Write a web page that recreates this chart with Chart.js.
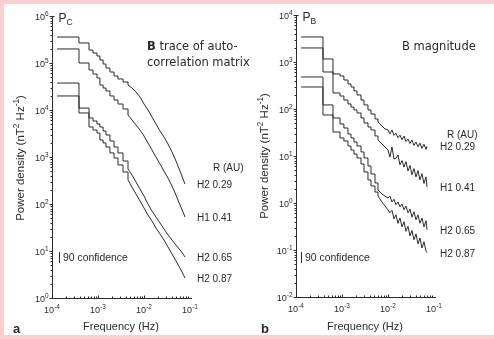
<!DOCTYPE html>
<html>
<head>
<meta charset="utf-8">
<script src="https://cdn.jsdelivr.net/npm/chart.js@4.4.0/dist/chart.umd.min.js"></script>
<style>
  html, body { margin: 0; padding: 0; }
  body { width: 494px; height: 339px; background: #fccfcf; position: relative; overflow: hidden; }
  #sheet { position: absolute; left: 4px; top: 4px; width: 490px; height: 331px; background: #fff; }
  canvas { position: absolute; top: 0; }
  #chartA { left: 0; }
  #chartB { left: 247px; }
</style>
</head>
<body>
<div id="sheet"></div>
<canvas id="chartA" width="260" height="339"></canvas>
<canvas id="chartB" width="247" height="339"></canvas>
<script>
// 频率 (Hz)，每个谱估计的起点
const freqA = [1.29e-4, 3.86e-4, 6.37e-4, 7.78e-4, 9.51e-4, 1.1e-3, 1.29e-3, 1.49e-3, 1.82e-3, 2.23e-3,
  2.72e-3, 3.5e-3, 4.49e-3, 5.48e-3, 6.7e-3, 8.18e-3, 1.0e-2, 1.22e-2, 1.49e-2, 1.82e-2,
  2.23e-2, 2.72e-2, 3.32e-2, 4.06e-2, 4.96e-2, 6.06e-2, 7.05e-2, 7.78e-2];

// a: P_C (nT^2 Hz^-1)
const pcH2_029 = [3.57e5, 2.67e5, 1.89e5, 1.63e5, 1.41e5, 1.16e5, 9.52e4, 7.83e4, 6.43e4, 5.29e4,
  4.57e4, 3.94e4, 3.40e4, 2.94e4, 2.42e4, 1.89e4, 1.34e4, 1.0e4, 7.10e3, 5.04e3,
  3.57e3, 2.66e3, 1.89e3, 1.28e3, 822, 504, 340, 267];
const pcH1_041 = [1.99e5, 1.0e5, 7.10e4, 5.83e4, 4.80e4, 3.40e4, 2.94e4, 2.54e4, 1.99e4, 1.63e4,
  1.34e4, 1.05e4, 7.83e3, 6.13e3, 4.80e3, 3.75e3, 2.80e3, 1.99e3, 1.41e3, 1.0e3,
  710, 504, 357, 242, 155, 95.2, 67.6, 52.9];
const pcH2_065 = [3.75e4, 1.10e4, 6.76e3, 5.83e3, 5.04e3, 4.35e3, 3.57e3, 2.94e3, 2.19e3, 1.63e3,
  1.22e3, 822, 555, 414, 294, 208, 148, 100, 71.0, 52.9,
  39.4, 29.4, 21.9, 17.1, 13.4, 10.5, 8.64, 7.45];
const pcH2_087 = [1.99e4, 8.64e3, 4.35e3, 3.75e3, 3.24e3, 2.30e3, 1.99e3, 1.63e3, 1.22e3, 952,
  676, 480, 324, 230, 163, 116, 82.2, 58.3, 43.5, 30.9,
  23.0, 17.1, 12.2, 8.64, 6.13, 4.35, 3.24, 2.67];

const freqB = [1.29e-4, 3.86e-4, 6.37e-4, 9.05e-4, 1.1e-3, 1.35e-3, 1.57e-3, 1.82e-3, 2.12e-3, 2.59e-3,
  3.01e-3, 3.67e-3, 4.27e-3, 5.22e-3, 6.06e-3, 7.41e-3, 8.61e-3, 1.0e-2, 1.1e-2, 1.22e-2,
  1.35e-2, 1.49e-2, 1.65e-2, 1.82e-2, 2.02e-2, 2.23e-2, 2.46e-2, 2.72e-2, 3.01e-2, 3.32e-2,
  3.67e-2, 4.06e-2, 4.49e-2, 4.96e-2, 5.48e-2, 6.06e-2, 6.70e-2, 7.05e-2];

// b: P_B
const pbH2_029 = [3.41e3, 1.16e3, 556, 504, 414, 341, 294, 242, 199, 155,
  122, 95.3, 78.3, 61.3, 52.9, 43.5, 37.6, 35.8, 29.5, 35.5,
  27.5, 30.5, 24.5, 27.8, 22.2, 26.5, 20.3, 23.0, 18.5, 21.8,
  16.8, 19.8, 15.8, 18.8, 14.5, 17.8, 13.8, 16.2];
const pbH1_041 = [1.99e3, 613, 219, 189, 155, 128, 110, 95.3, 82.3, 64.4,
  50.4, 41.4, 35.8, 26.7, 21.9, 18.0, 15.5, 13.4, 9.5, 15.5,
  8.6, 9.0, 10.5, 6.5, 8.0, 5.8, 7.6, 4.8, 6.3, 4.0,
  5.4, 3.6, 4.9, 3.1, 4.2, 2.6, 3.6, 2.2];
const pbH2_065 = [480, 122, 64.4, 48.0, 39.4, 29.4, 24.2, 19.9, 16.3, 12.2,
  9.08, 6.13, 4.14, 2.67, 1.89, 1.55, 1.41, 1.28, 1.40, 1.05,
  1.20, 0.92, 1.05, 0.83, 0.95, 0.72, 0.86, 0.62, 0.74, 0.50,
  0.65, 0.44, 0.56, 0.37, 0.48, 0.31, 0.42, 0.27];
const pbH2_087 = [294, 74.6, 32.4, 24.2, 20.9, 16.3, 13.4, 11.0, 9.08, 6.76,
  4.57, 3.09, 2.30, 1.71, 1.41, 1.05, 0.864, 0.710, 0.62, 0.70,
  0.46, 0.56, 0.37, 0.48, 0.31, 0.40, 0.25, 0.32, 0.20, 0.26,
  0.165, 0.22, 0.135, 0.18, 0.11, 0.15, 0.095, 0.088];

const seriesLabels = ['H2 0.29', 'H1 0.41', 'H2 0.65', 'H2 0.87'];
const xTickExp = [-4, -3, -2, -1];
const yTickExpA = [0, 1, 2, 3, 4, 5, 6];
const yTickExpB = [-2, -1, 0, 1, 2, 3, 4];

const INK = '#2a2a2a';
const SANS = '"Liberation Sans", Arial, sans-serif';
const TITLE = '"DejaVu Sans", Verdana, sans-serif';

// 富文本：上标 / 下标 / 粗体
function runFont(kind, size, family) {
  const s = (kind === 'sup' || kind === 'sub') ? size * 0.72 : size;
  return (kind === 'b' ? 'bold ' : '') + s + 'px ' + family;
}
function drawRich(ctx, runs, x, y, size, family, align) {
  let total = 0;
  runs.forEach(([t, k]) => { ctx.font = runFont(k, size, family); total += ctx.measureText(t).width; });
  let cx = align === 'right' ? x - total : align === 'center' ? x - total / 2 : x;
  ctx.textAlign = 'left';
  ctx.textBaseline = 'alphabetic';
  runs.forEach(([t, k]) => {
    ctx.font = runFont(k, size, family);
    const dy = k === 'sup' ? -size * 0.42 : k === 'sub' ? size * 0.28 : 0;
    ctx.fillText(t, cx, y + dy);
    cx += ctx.measureText(t).width;
  });
}

function panelPlugin(p) {
  return {
    id: 'panel' + p.letter,
    afterDraw(chart) {
      const { ctx, chartArea: a, scales: { x, y } } = chart;
      ctx.save();
      ctx.strokeStyle = INK;
      ctx.fillStyle = INK;
      ctx.lineWidth = 1;

      // 坐标轴
      const L = a.left + 0.5, B = a.bottom + 0.5;
      ctx.beginPath();
      ctx.moveTo(L, a.top);
      ctx.lineTo(L, B);
      ctx.lineTo(a.right + 2, B);
      ctx.stroke();

      // 刻度
      ctx.beginPath();
      for (let e = p.yExp[0]; e < p.yExp[p.yExp.length - 1]; e++) {
        for (let k = 1; k < 10; k++) {
          const py = Math.round(y.getPixelForValue(k * Math.pow(10, e))) + 0.5;
          ctx.moveTo(L - (k === 1 ? 3 : 2), py);
          ctx.lineTo(L, py);
        }
      }
      const topY = Math.round(y.getPixelForValue(Math.pow(10, p.yExp[p.yExp.length - 1]))) + 0.5;
      ctx.moveTo(L - 3, topY); ctx.lineTo(L + 2, topY);
      for (let e = -4; e < -1; e++) {
        for (let k = 1; k < 10; k++) {
          const px = Math.round(x.getPixelForValue(k * Math.pow(10, e))) + 0.5;
          ctx.moveTo(px, B);
          ctx.lineTo(px, B - (k === 1 ? 3 : 2));
        }
      }
      ctx.stroke();

      // 刻度标签
      p.yExp.forEach(e => {
        const py = y.getPixelForValue(Math.pow(10, e));
        drawRich(ctx, [['10', ''], [String(e), 'sup']], L - 4, py + 4, 9, SANS, 'right');
      });
      xTickExp.forEach(e => {
        const px = x.getPixelForValue(Math.pow(10, e));
        drawRich(ctx, [['10', ''], [String(e), 'sup']], px, B + 14, 9, SANS, 'center');
      });

      // 曲线标签（只标在每条曲线的高频段末端）
      chart.data.datasets.forEach(ds => {
        if (!ds.label) return;
        const last = ds.data[ds.data.length - 1];
        drawRich(ctx, [[ds.label, '']], x.getPixelForValue(last.x) + p.labelGap, y.getPixelForValue(last.y) + 4, 10, SANS, 'left');
      });
      drawRich(ctx, [['R (AU)', '']], p.rau[0], p.rau[1], 10, SANS, 'left');

      // 置信度
      ctx.beginPath();
      ctx.moveTo(p.conf[0] + 0.5, p.conf[1] - 9);
      ctx.lineTo(p.conf[0] + 0.5, p.conf[1] + 2);
      ctx.stroke();
      drawRich(ctx, [['90 confidence', '']], p.conf[0] + 4, p.conf[1], 10.4, SANS, 'left');

      // 标题
      drawRich(ctx, [['P', ''], [p.sub, 'sub']], L + 6, a.top + 6, 12, SANS, 'left');
      p.title.forEach((runs, i) => drawRich(ctx, runs, p.titleX, 50 + i * 16, 11.5, TITLE, 'left'));
      drawRich(ctx, [['Frequency (Hz)', '']], (a.left + a.right) / 2, 330, 11, SANS, 'center');
      drawRich(ctx, [[p.letter, 'b']], p.letterX, 333, 13, SANS, 'left');

      ctx.translate(p.yTitle[0], p.yTitle[1]);
      ctx.rotate(-Math.PI / 2);
      drawRich(ctx, [['Power density (nT', ''], ['2', 'sup'], [' Hz', ''], ['-1', 'sup'], [')', '']], 0, 4, 11.5, SANS, 'center');
      ctx.restore();
    }
  };
}

// 低频段画成台阶（频段宽），高频段直接连线
function buildChart(id, p) {
  const datasets = [];
  p.series.forEach((vals, i) => {
    const pts = p.freq.map((f, j) => ({ x: f, y: vals[j] }));
    const line = { borderColor: INK, borderWidth: 1, pointRadius: 0, fill: false };
    datasets.push({ ...line, data: pts.slice(0, p.stepCount + 1), stepped: 'before' });
    datasets.push({ ...line, data: pts.slice(p.stepCount), label: seriesLabels[i] });
  });
  return new Chart(document.getElementById(id), {
    type: 'line',
    data: { datasets },
    options: {
      responsive: false,
      animation: false,
      devicePixelRatio: 1,
      layout: { padding: p.padding },
      plugins: { legend: { display: false }, tooltip: { enabled: false } },
      scales: {
        x: { type: 'logarithmic', min: 1e-4, max: 1e-1, display: false },
        y: { type: 'logarithmic', min: Math.pow(10, p.yExp[0]), max: Math.pow(10, p.yExp[p.yExp.length - 1]), display: false }
      }
    },
    plugins: [panelPlugin(p)]
  });
}

document.addEventListener('DOMContentLoaded', () => {
  buildChart('chartA', {
    letter: 'a', sub: 'C',
    freq: freqA, series: [pcH2_029, pcH1_041, pcH2_065, pcH2_087], stepCount: 12,
    yExp: yTickExpA,
    padding: { left: 52, top: 16, right: 70, bottom: 41 },
    labelGap: 12, rau: [213, 171], conf: [59, 261],
    title: [[['B', 'b'], [' trace of auto-', '']], [['correlation matrix', '']]], titleX: 147,
    letterX: 13, yTitle: [20, 158]
  });
  buildChart('chartB', {
    letter: 'b', sub: 'B',
    freq: freqB, series: [pbH2_029, pbH1_041, pbH2_065, pbH2_087], stepCount: 14,
    yExp: yTickExpB,
    padding: { left: 49, top: 15, right: 60, bottom: 42 },
    labelGap: 13, rau: [200, 138], conf: [54, 261],
    title: [[['B magnitude', '']]], titleX: 155,
    letterX: 14, yTitle: [17, 156]
  });
});
</script>
</body>
</html>
